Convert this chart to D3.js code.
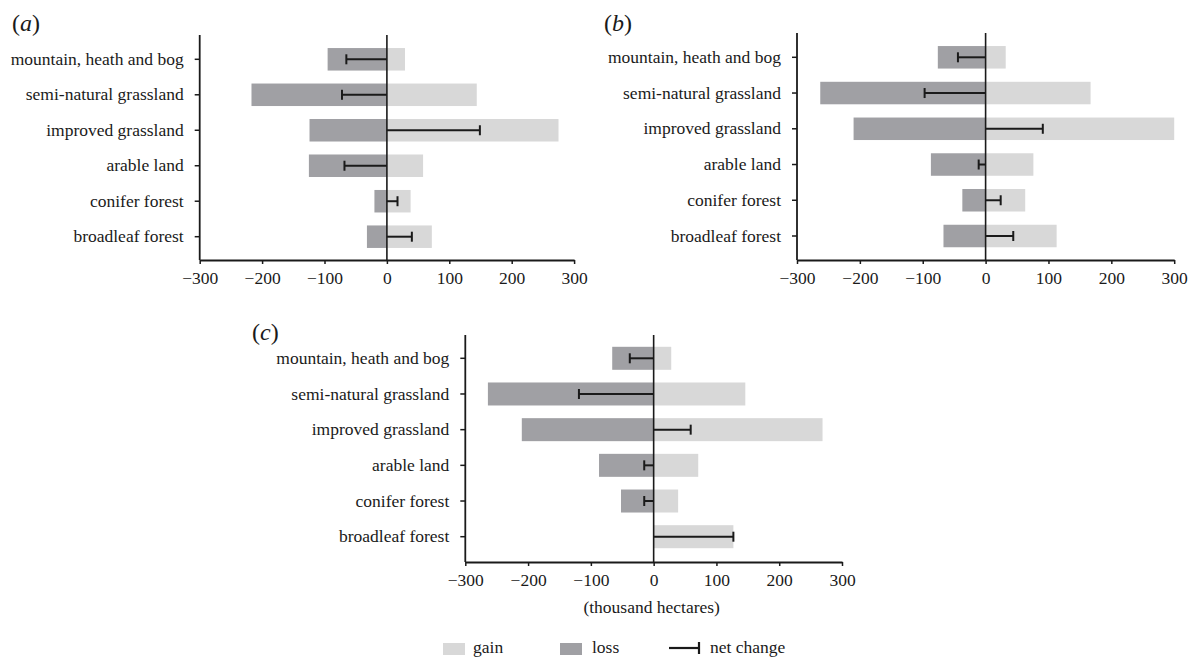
<!DOCTYPE html>
<html>
<head>
<meta charset="utf-8">
<script src="https://cdn.jsdelivr.net/npm/d3@7/dist/d3.min.js"></script>
<style>
  html, body { margin: 0; padding: 0; background: #fff; }
  svg text { font-family: "Liberation Serif", "DejaVu Serif", serif; fill: #1a1a1a; }
</style>
</head>
<body>
<svg id="chart" width="1188" height="659" font-family="Liberation Serif, DejaVu Serif, serif"></svg>
<script>
// ---------- data ----------
const categories = ["mountain, heath and bog", "semi-natural grassland", "improved grassland",
                    "arable land", "conifer forest", "broadleaf forest"];
const xTickValues = [-300, -200, -100, 0, 100, 200, 300];
const xTickLabels = ["\u2212300", "\u2212200", "\u2212100", "0", "100", "200", "300"];

const gainA = [29, 144, 275, 58, 38, 72];
const lossA = [-95, -217, -124, -125, -20, -32];
const netA  = [-65, -72, 149, -68, 17, 40];

const gainB = [32, 167, 300, 76, 63, 113];
const lossB = [-76, -263, -210, -87, -37, -67];
const netB  = [-44, -97, 91, -11, 24, 44];

const gainC = [28, 146, 269, 71, 39, 127];
const lossC = [-66, -264, -210, -87, -52, 0];
const netC  = [-38, -119, 59, -15, -15, 127];

const panelNames = ["a", "b", "c"];
const legendLabels = ["gain", "loss", "net change"];

// ---------- style ----------
const gainColor = "#d8d8d8";
const lossColor = "#a0a0a4";
const inkColor = "#1a1a1a";
const serif = "Liberation Serif, DejaVu Serif, serif";
const fontSize = "17.5px";

const svg = d3.select("#chart");

function drawPanel(cfg) {
  const g = svg.append("g");
  const x = d3.scaleLinear().domain([-300, 300]).range([cfg.x0, cfg.x1]);
  const step = (cfg.c5 - cfg.c0) / (categories.length - 1);
  const p = 1 - cfg.barH / step;
  const y = d3.scaleBand().domain(categories)
    .range([cfg.c0 - step / 2, cfg.c5 + step / 2])
    .paddingInner(p).paddingOuter(p / 2);

  const rows = categories.map((c, i) => ({ c, gain: cfg.gain[i], loss: cfg.loss[i], net: cfg.net[i] }));

  g.selectAll(".gain").data(rows).join("rect")
    .attr("x", x(0)).attr("y", d => y(d.c))
    .attr("width", d => x(d.gain) - x(0)).attr("height", y.bandwidth())
    .attr("fill", gainColor);
  g.selectAll(".loss").data(rows).join("rect")
    .attr("x", d => x(d.loss)).attr("y", d => y(d.c))
    .attr("width", d => x(0) - x(d.loss)).attr("height", y.bandwidth())
    .attr("fill", lossColor);

  g.append("line")
    .attr("x1", x(0)).attr("x2", x(0))
    .attr("y1", cfg.top).attr("y2", cfg.bottom)
    .attr("stroke", inkColor).attr("stroke-width", 1.6);

  g.selectAll(".net").data(rows).join("line")
    .attr("x1", x(0)).attr("x2", d => x(d.net))
    .attr("y1", d => y(d.c) + y.bandwidth() / 2).attr("y2", d => y(d.c) + y.bandwidth() / 2)
    .attr("stroke", inkColor).attr("stroke-width", 2);
  g.selectAll(".cap").data(rows).join("line")
    .attr("x1", d => x(d.net)).attr("x2", d => x(d.net))
    .attr("y1", d => y(d.c) + y.bandwidth() / 2 - 5).attr("y2", d => y(d.c) + y.bandwidth() / 2 + 5)
    .attr("stroke", inkColor).attr("stroke-width", 2);

  const ya = g.append("g").attr("transform", `translate(${cfg.x0},0)`)
    .call(d3.axisLeft(y).tickSize(5).tickPadding(11).tickSizeOuter(0))
    .attr("font-family", serif).attr("font-size", fontSize);
  ya.select(".domain").remove();
  ya.selectAll(".tick line").attr("stroke", inkColor).attr("stroke-width", 1.5);
  ya.selectAll(".tick text").attr("fill", inkColor);
  g.append("line")
    .attr("x1", cfg.x0).attr("x2", cfg.x0)
    .attr("y1", cfg.top).attr("y2", cfg.bottom)
    .attr("stroke", inkColor).attr("stroke-width", 1.8);

  const xa = g.append("g").attr("transform", `translate(0,${cfg.bottom})`)
    .call(d3.axisBottom(x).tickValues(xTickValues)
      .tickFormat((d, i) => xTickLabels[i]).tickSize(4).tickPadding(8).tickSizeOuter(0))
    .attr("font-family", serif).attr("font-size", fontSize);
  xa.select(".domain").attr("stroke", inkColor).attr("stroke-width", 1.8);
  xa.selectAll(".tick line").attr("stroke", inkColor).attr("stroke-width", 1.5);
  xa.selectAll(".tick text").attr("fill", inkColor);

  const t = g.append("text").attr("x", cfg.lx).attr("y", cfg.ly)
    .attr("font-family", serif).style("font-size", "24px");
  t.append("tspan").text("(");
  t.append("tspan").style("font-style", "italic").text(cfg.name);
  t.append("tspan").text(")");

  return x;
}

drawPanel({ name: panelNames[0], gain: gainA, loss: lossA, net: netA,
  x0: 199.7, x1: 574.1, top: 35, bottom: 260, c0: 59.3, c5: 236.7, barH: 22.5, lx: 12, ly: 31 });
drawPanel({ name: panelNames[1], gain: gainB, loss: lossB, net: netB,
  x0: 797, x1: 1174.2, top: 33, bottom: 260, c0: 57.3, c5: 236, barH: 22.5, lx: 604, ly: 31 });
const xc = drawPanel({ name: panelNames[2], gain: gainC, loss: lossC, net: netC,
  x0: 465.3, x1: 842, top: 335, bottom: 562, c0: 358.3, c5: 536.7, barH: 23, lx: 252, ly: 340 });

svg.append("text").attr("x", xc(0) - 2).attr("y", 613).attr("text-anchor", "middle")
  .attr("font-family", serif).style("font-size", fontSize).text("(thousand hectares)");

// ---------- legend ----------
const lg = svg.append("g").attr("font-family", serif);
lg.append("rect").attr("x", 443).attr("y", 643).attr("width", 22).attr("height", 12).attr("fill", gainColor);
lg.append("text").attr("x", 473).attr("y", 653).style("font-size", fontSize).text(legendLabels[0]);
lg.append("rect").attr("x", 560).attr("y", 643).attr("width", 22).attr("height", 12).attr("fill", lossColor);
lg.append("text").attr("x", 592).attr("y", 653).style("font-size", fontSize).text(legendLabels[1]);
lg.append("line").attr("x1", 669).attr("x2", 699).attr("y1", 648).attr("y2", 648)
  .attr("stroke", inkColor).attr("stroke-width", 2.2);
lg.append("line").attr("x1", 699).attr("x2", 699).attr("y1", 642).attr("y2", 654)
  .attr("stroke", inkColor).attr("stroke-width", 2.2);
lg.append("text").attr("x", 710).attr("y", 653).style("font-size", fontSize).text(legendLabels[2]);
</script>
</body>
</html>
